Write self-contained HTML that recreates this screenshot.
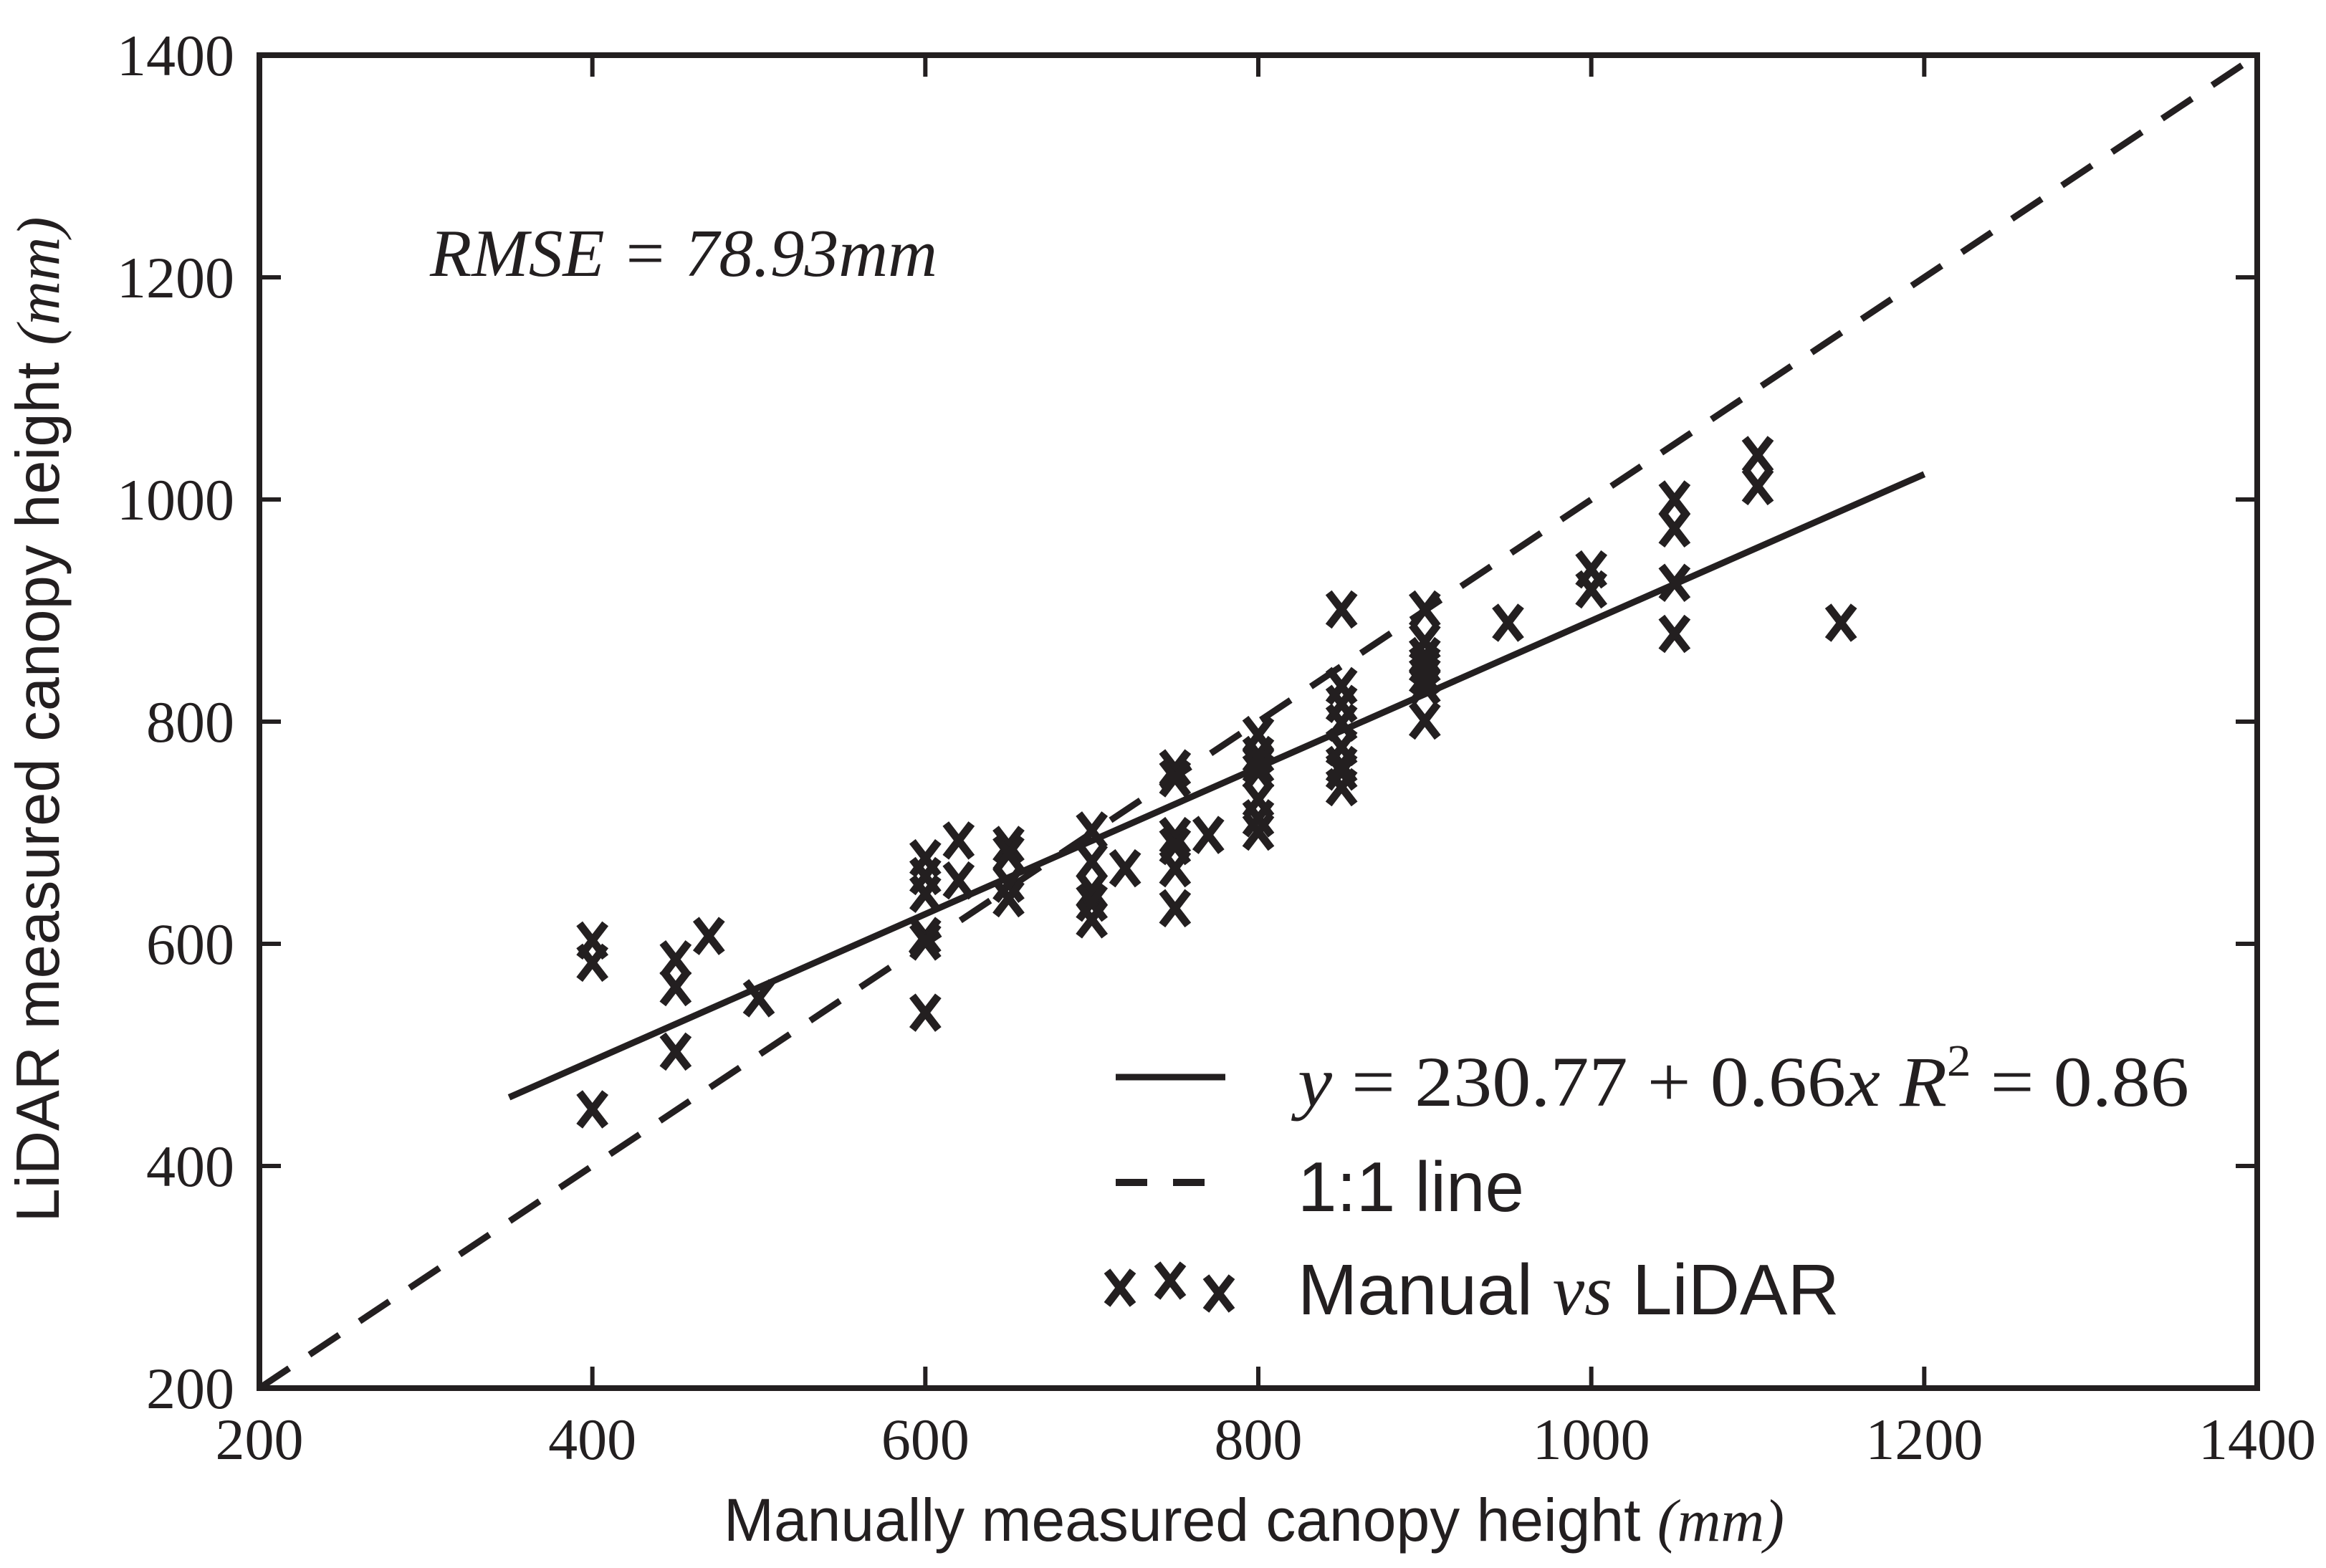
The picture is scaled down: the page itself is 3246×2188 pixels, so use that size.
<!DOCTYPE html>
<html><head><meta charset="utf-8"><style>
html,body{margin:0;padding:0;background:#fff}
svg{display:block}
text{fill:#231f20}
.serif{font-family:"Liberation Serif",serif}
.sans{font-family:"Liberation Sans",sans-serif}
</style></head><body>
<svg id="chart" width="3246" height="2188" viewBox="0 0 3246 2188" xmlns="http://www.w3.org/2000/svg">
<g id="plot"></g>
<text class="serif" x="600" y="385" font-size="94" font-style="italic" textLength="708" lengthAdjust="spacingAndGlyphs">RMSE = 78.93mm</text>
<text class="sans" x="1750" y="2150" font-size="84" text-anchor="middle">Manually measured canopy height <tspan class="serif" font-style="italic">(mm)</tspan></text>
<text class="sans" transform="translate(82,1004) rotate(-90)" font-size="85" text-anchor="middle">LiDAR measured canopy height <tspan class="serif" font-style="italic">(mm)</tspan></text>
<g>
<line x1="1557" y1="1503" x2="1710" y2="1503" stroke="#231f20" stroke-width="9"/>
<text class="serif" x="1811" y="1543" font-size="100" font-style="italic" textLength="1244" lengthAdjust="spacingAndGlyphs">y <tspan font-style="normal">= 230.77 + 0.66</tspan>x R<tspan font-size="62" dy="-42" font-style="normal">2</tspan><tspan dy="42" font-style="normal"> = 0.86</tspan></text>
<line x1="1557" y1="1650" x2="1710" y2="1650" stroke="#231f20" stroke-width="10" stroke-dasharray="44,36"/>
<text class="sans" x="1811" y="1690" font-size="98">1:1 line</text>
<g id="legmarks"></g>
<text class="sans" x="1811" y="1834" font-size="100">Manual <tspan class="serif" font-style="italic">vs</tspan> LiDAR</text>
</g>
</svg>
<script>
const xTicks=[200,400,600,800,1000,1200,1400];
const yTicks=[200,400,600,800,1000,1200,1400];
const manualX=[400,400,400,450,450,450,470,500,600,600,600,600,600,600,620,620,650,650,650,650,700,700,700,700,700,720,750,750,750,750,750,750,770,800,800,800,800,800,800,800,850,850,850,850,850,850,850,850,900,900,900,900,900,900,900,950,1000,1000,1050,1050,1050,1050,1100,1100,1150];
const lidarY=[603,583,451,586,561,503,607,551,677,661,645,607,602,538,693,657,689,681,654,641,702,674,648,637,622,668,758,749,697,688,668,632,698,788,770,761,755,730,713,701,901,832,816,799,777,761,755,741,901,872,859,851,841,832,801,889,937,919,1000,974,925,879,1040,1012,889];
const fitIntercept=230.77, fitSlope=0.66, fitRange=[350,1200];
const identityRange=[200,1400];

const L=362,R=3150,T=77,B=1937;
const sx=v=>L+(v-200)/1200*(R-L);
const sy=v=>B-(v-200)/1200*(B-T);
const NS='http://www.w3.org/2000/svg';
const plot=document.getElementById('plot');
function mk(tag,attrs,parent){const e=document.createElementNS(NS,tag);for(const k in attrs)e.setAttribute(k,attrs[k]);(parent||plot).appendChild(e);return e;}
const ink='#231f20';
let e=mk('line',{x1:sx(identityRange[0]),y1:sy(identityRange[0]),x2:sx(identityRange[1]),y2:sy(identityRange[1]),stroke:ink,'stroke-width':9,'stroke-dasharray':'50,34'});


e=mk('line',{x1:sx(fitRange[0]),y1:sy(fitIntercept+fitSlope*fitRange[0]),x2:sx(fitRange[1]),y2:sy(fitIntercept+fitSlope*fitRange[1]),stroke:ink,'stroke-width':9});


const h=18;
function xmark(cx,cy,parent){return mk('path',{d:`M${cx-h},${cy-h*1.3}L${cx+h},${cy+h*1.3}M${cx+h},${cy-h*1.3}L${cx-h},${cy+h*1.3}`,stroke:ink,'stroke-width':11,fill:'none'},parent);}
for(let i=0;i<manualX.length;i++){
  e=xmark(sx(manualX[i]),sy(lidarY[i]));
  
  
}
const lg=document.getElementById('legmarks');
[[1563,1797],[1633,1787],[1701,1805]].forEach(p=>{
  const m=xmark(p[0],p[1],lg);
  
  
});
e=mk('rect',{x:L,y:T,width:R-L,height:B-T,fill:'none',stroke:ink,'stroke-width':8});


const tl=30;
xTicks.forEach(v=>{
  const x=sx(v);
  e=mk('path',{d:`M${x},${B}V${B-tl}M${x},${T}V${T+tl}`,stroke:ink,'stroke-width':6});
  
  
  e=mk('text',{x:x,y:2036,'font-size':82,'text-anchor':'middle',class:'serif'});
  e.textContent=v;
  
  
});
yTicks.forEach(v=>{
  const y=sy(v);
  e=mk('path',{d:`M${L},${y}H${L+tl}M${R},${y}H${R-tl}`,stroke:ink,'stroke-width':6});
  
  
  e=mk('text',{x:327,y:y+28,'font-size':82,'text-anchor':'end',class:'serif'});
  e.textContent=v;
  
  
});
</script>
</body></html>
